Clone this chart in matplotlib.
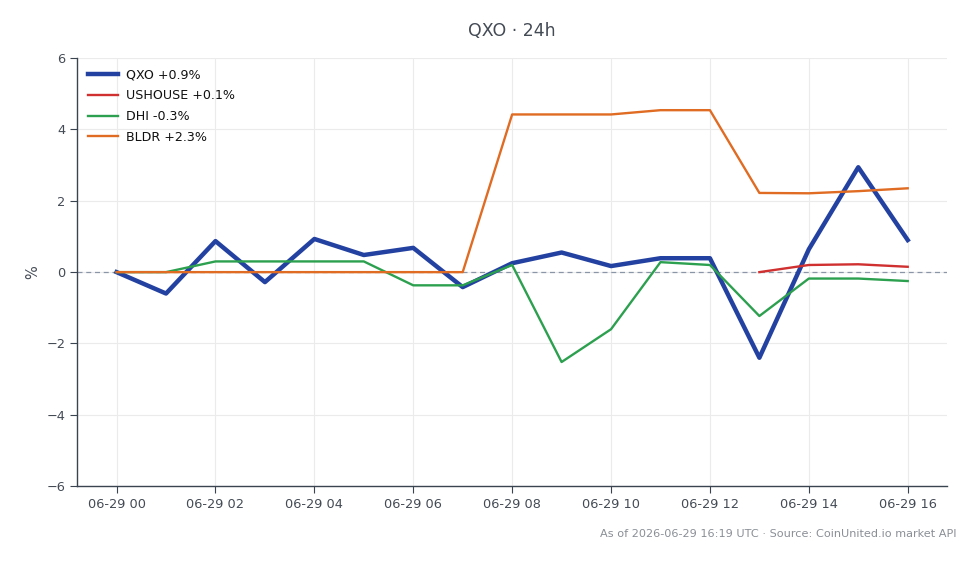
import matplotlib
matplotlib.use("Agg")
import matplotlib.pyplot as plt
import numpy as np

hours = list(range(17))
tick_hours = [0, 2, 4, 6, 8, 10, 12, 14, 16]
tick_labels = ["06-29 00", "06-29 02", "06-29 04", "06-29 06", "06-29 08",
               "06-29 10", "06-29 12", "06-29 14", "06-29 16"]

qxo = [0.0, -0.6, 0.87, -0.28, 0.93, 0.48, 0.68, -0.42, 0.25, 0.55, 0.17,
       0.39, 0.39, -2.4, 0.64, 2.94, 0.9]
ushouse = [np.nan] * 13 + [0.0, 0.2, 0.22, 0.15]
dhi = [0.0, 0.0, 0.3, 0.3, 0.3, 0.3, -0.37, -0.37, 0.2, -2.52, -1.6,
       0.28, 0.2, -1.23, -0.18, -0.18, -0.25]
bldr = [0.0, 0.0, 0.0, 0.0, 0.0, 0.0, 0.0, 0.0, 4.42, 4.42, 4.42,
        4.54, 4.54, 2.22, 2.21, 2.27, 2.35]

series = [
    ("QXO +0.9%", qxo, "#2341a0", 3.2),
    ("USHOUSE +0.1%", ushouse, "#d03030", 1.7),
    ("DHI -0.3%", dhi, "#2ca04f", 1.7),
    ("BLDR +2.3%", bldr, "#e06b22", 1.7),
]

text_color = "#444b55"
fig = plt.figure(figsize=(9.8, 5.64), dpi=100)
ax = fig.add_axes([0.0786, 0.138, 0.888, 0.759])

for label, vals, color, lw in series:
    ax.plot(hours, vals, color=color, lw=lw, label=label, zorder=3)

ax.axhline(0, color="#8a96a8", lw=0.9, ls=(0, (4, 3)), zorder=2)

ax.set_ylim(-6, 6)
ax.set_yticks([-6, -4, -2, 0, 2, 4, 6])
ax.set_yticklabels(["\u22126", "\u22124", "\u22122", "0", "2", "4", "6"])
ax.set_xticks(tick_hours)
ax.set_xticklabels(tick_labels)
ax.margins(x=0.05)
ax.grid(True, color="#ebebeb", lw=0.8, zorder=0)
ax.set_axisbelow(True)
for s in ["top", "right"]:
    ax.spines[s].set_visible(False)
for s in ["left", "bottom"]:
    ax.spines[s].set_color("#3a4350")
    ax.spines[s].set_linewidth(1.0)
ax.tick_params(colors=text_color, labelsize=9.3, length=5, color="#3a4350")
ax.set_ylabel("%", color=text_color, fontsize=10.5, labelpad=4)

ax.set_title("QXO \u00b7 24h", color=text_color, fontsize=12.5, pad=16)

leg = ax.legend(loc="upper left", frameon=False, fontsize=9.1,
                handlelength=2.4, handletextpad=0.6, labelspacing=0.6,
                borderaxespad=0.45)
for t in leg.get_texts():
    t.set_color("#111111")

fig.text(0.976, 0.054, "As of 2026-06-29 16:19 UTC \u00b7 Source: CoinUnited.io market API",
         ha="right", va="center", fontsize=8.15, color="#8a8f96")

fig.savefig("out.png", dpi=100)
